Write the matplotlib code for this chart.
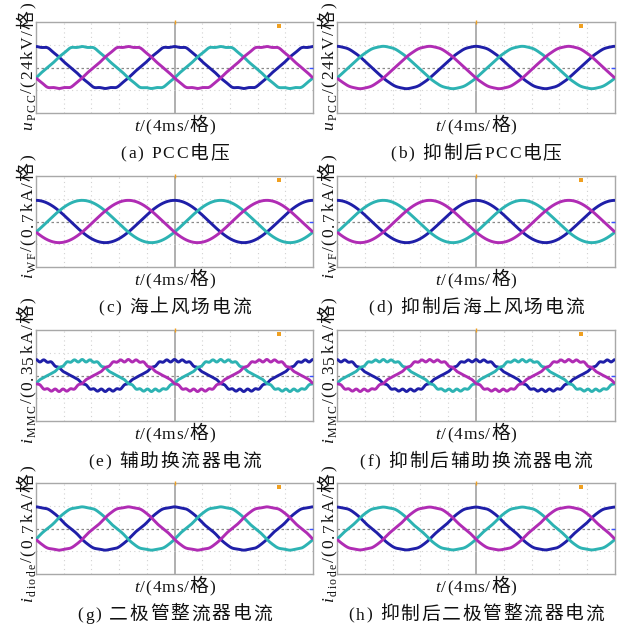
import numpy as np
import matplotlib
matplotlib.use('Agg')
import matplotlib.pyplot as plt
from matplotlib.font_manager import FontProperties, findfont, get_font
from matplotlib.transforms import IdentityTransform

W, H, DPI = 620, 626, 100

# ---------------- data ----------------
t_ms = np.linspace(0.0, 40.0, 4001)          # 10 divisions x 4 ms
f_hz = 50.0
phase_deg = [0.0, -120.0, 120.0]             # blue, cyan, magenta
phase_colors = ['#1f1fa8', '#2db3b3', '#b02cb4']

captions = ['(a) PCC电压', '(b) 抑制后PCC电压',
            '(c) 海上风场电流', '(d) 抑制后海上风场电流',
            '(e) 辅助换流器电流', '(f) 抑制后辅助换流器电流',
            '(g) 二极管整流器电流', '(h) 抑制后二极管整流器电流']
ylab_sym = ['u', 'u', 'i', 'i', 'i', 'i', 'i', 'i']
ylab_sub = ['PCC', 'PCC', 'WF', 'WF', 'MMC', 'MMC', 'diode', 'diode']
ylab_scale = ['24kV', '24kV', '0.7kA', '0.7kA', '0.35kA', '0.35kA', '0.7kA', '0.7kA']
xlab_scale = '4ms'

# fundamental amplitude (divisions) and harmonic amplitudes (divisions)
fund_amp = [0.94, 0.93, 0.93, 0.93, 0.68, 0.68, 0.96, 0.95]
harm_order = [5, 7, 11, 13, 17, 19]
harm_amp = [
    [-0.032, -0.008, 0.013, 0.010, 0.000, 0.000],   # a
    [-0.004, 0.000, 0.003, 0.003, 0.000, 0.000],    # b
    [0.000, 0.000, 0.000, 0.000, 0.000, 0.000],     # c
    [0.000, 0.000, 0.000, 0.000, 0.000, 0.000],     # d
    [-0.035, 0.000, 0.008, 0.000, 0.028, 0.024],    # e
    [-0.035, 0.000, 0.008, 0.000, 0.027, 0.023],    # f
    [-0.028, 0.008, 0.007, 0.005, 0.000, 0.000],    # g
    [-0.024, 0.007, 0.005, 0.004, 0.000, 0.000],    # h
]

# ---------------- layout (pixels, from top-left) ----------------
col_left = [36, 337]
col_right = [313, 615]
row_top = [22, 176, 330, 483]
box_h = 91
ylab_bottom = [130, 278, 443, 602]

LATIN = 'Liberation Serif'
CJK = 'Noto Sans CJK SC'


def glyph_font(ch, style, size_lat, size_cjk):
    prop = FontProperties(family=LATIN, style=style, size=size_lat)
    f = get_font(findfont(prop))
    if f.get_char_index(ord(ch)) == 0:
        prop = FontProperties(family=CJK, size=size_cjk)
        f = get_font(findfont(prop))
        size = size_cjk
    else:
        size = size_lat
    f.set_size(size, DPI)
    adv = f.load_char(ord(ch)).linearHoriAdvance / 65536.0
    return prop, adv


def draw_run(fig, pieces, x, y_top, rot=0, anchor='center', tracking=1.0):
    glyphs = []
    pos = 0.0
    for s, style, s_lat, s_cjk, shift in pieces:
        for ch in s:
            prop, adv = glyph_font(ch, style, s_lat, s_cjk)
            glyphs.append((ch, prop, pos, shift))
            pos += adv + tracking
    total = pos - tracking
    start = -total / 2 if anchor == 'center' else 0.0
    r = np.radians(rot)
    d = np.array([np.cos(r), np.sin(r)])
    u = np.array([-np.sin(r), np.cos(r)])
    p0 = np.array([x, H - y_top])
    for ch, prop, p, shift in glyphs:
        if ch == ' ':
            continue
        q = p0 + (start + p) * d + shift * u
        fig.text(q[0], q[1], ch, fontproperties=prop, rotation=rot,
                 rotation_mode='anchor', ha='left', va='baseline',
                 color='#111111', transform=IdentityTransform())


fig = plt.figure(figsize=(W / DPI, H / DPI), dpi=DPI)
fig.patch.set_facecolor('white')

x_div = np.arange(4, 40, 4)
y_div = [-1, 1]

for k in range(8):
    r, c = divmod(k, 2)
    l, rr, top = col_left[c], col_right[c], row_top[r]
    ax = fig.add_axes([l / W, (H - top - box_h) / H, (rr - l) / W, box_h / H])
    ax.set_xlim(0, 40)
    ax.set_ylim(-2, 2)
    ax.set_xticks([])
    ax.set_yticks([])
    for sp in ax.spines.values():
        sp.set_color('#a8a8a8')
        sp.set_linewidth(1.0)
    for xv in x_div:
        if xv == 20:
            ax.axvline(xv, color='#9a9a9a', lw=1.1, zorder=1)
        else:
            ax.axvline(xv, color='#d2d2d2', lw=0.8, ls=(0, (1, 3)), zorder=1)
    for yv in y_div:
        ax.axhline(yv, color='#d2d2d2', lw=0.8, ls=(0, (1, 3)), zorder=1)
    ax.axhline(0, color='#8a8a8a', lw=0.9, ls=(0, (2, 2)), zorder=1)

    w = 2 * np.pi * f_hz * t_ms / 1000.0
    for ph, col in zip(phase_deg, phase_colors):
        th = w + np.radians(ph)
        y = fund_amp[k] * np.cos(th)
        for n, a in zip(harm_order, harm_amp[k]):
            y = y + a * np.cos(n * th)
        ax.plot(t_ms, y, color=col, lw=2.1, zorder=3, solid_capstyle='butt')

    # oscilloscope markers
    ax.plot([20], [2.0], marker='|', ms=3, color='#f0a020', clip_on=False, zorder=4)
    ax.plot([35.1], [1.84], marker='s', ms=2.5, color='#f0a020', mew=0, zorder=4)
    ax.plot([39.7], [0.0], marker='_', ms=3, color='#3a50ff', zorder=4)

    cx = (l + rr) / 2
    bottom = top + box_h
    # x label
    draw_run(fig, [('t', 'italic', 12.5, 13.5, 0),
                   ('/(' + xlab_scale + '/格)', 'normal', 12.5, 13.5, 0)],
             cx, bottom + 18, rot=0, anchor='center', tracking=0.9)
    # caption
    draw_run(fig, [(captions[k], 'normal', 12.5, 13.5, 0)],
             cx, bottom + 45.5, rot=0, anchor='center', tracking=1.8)
    # y label (rotated)
    draw_run(fig, [(ylab_sym[k], 'italic', 12.5, 13.5, 0),
                   (ylab_sub[k], 'normal', 8.5, 9.0, -3.0),
                   ('/(' + ylab_scale[k] + '/格)', 'normal', 12.5, 13.5, 0)],
             l - 3.5, ylab_bottom[r], rot=90, anchor='start', tracking=1.5)

fig.savefig('out.png', dpi=DPI, facecolor='white')
